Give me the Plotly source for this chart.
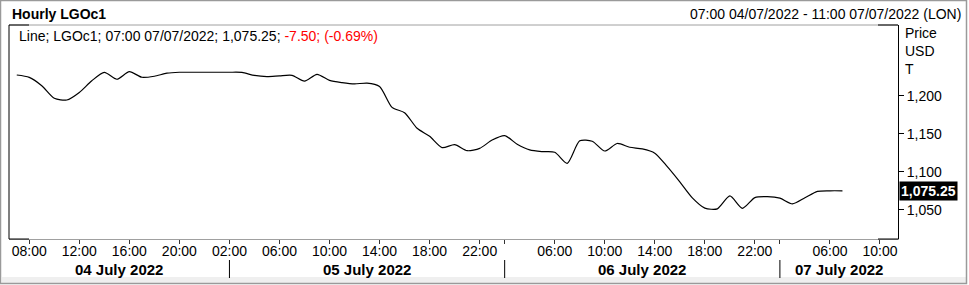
import plotly.graph_objects as go

# ---------------- data ----------------
prices = [
    1227.6, 1224.5, 1213.5, 1197.0, 1194.7, 1204.7, 1220.0, 1231.0, 1222.0, 1232.0,
    1224.6, 1226.0, 1230.0, 1231.2, 1231.2, 1231.2, 1231.2, 1231.2, 1231.0, 1227.0,
    1225.5, 1226.5, 1227.2, 1219.5, 1228.5, 1220.5, 1217.5, 1215.8, 1217.0, 1212.5,
    1185.0, 1178.0, 1157.5, 1147.0, 1132.0, 1136.0, 1128.0, 1131.0, 1142.0, 1147.8,
    1136.5, 1129.0, 1126.8, 1126.0, 1111.4, 1141.0, 1140.5, 1127.6, 1137.5, 1132.5,
    1130.3, 1124.8, 1107.0, 1087.0, 1066.0, 1052.5, 1051.5, 1068.5, 1052.2, 1066.3,
    1067.5, 1065.5, 1058.0, 1066.0, 1074.5, 1075.25, 1075.25,
]
hour_index = list(range(len(prices)))  # trading-hour slots from 07:00 04/07/2022

tick_idx = [1, 5, 9, 13, 17, 21, 25, 29, 33, 37, 39, 43, 47, 51, 55, 59, 61, 65, 69]
tick_text = ["08:00", "12:00", "16:00", "20:00", "02:00", "06:00", "10:00", "14:00",
             "18:00", "22:00", "", "06:00", "10:00", "14:00", "18:00", "22:00", "",
             "06:00", "10:00"]
day_labels = ["04 July 2022", "05 July 2022", "06 July 2022", "07 July 2022"]
day_breaks = [17, 39, 61]

y_tickvals = [1050, 1100, 1150, 1200]
y_ticktext = ["1,050", "1,100", "1,150", "1,200"]
last_value_text = "1,075.25"

x_range = [-0.62, 70.44]
y_range = [1011.8, 1293.4]

# ---------------- layout helpers ----------------
W, H = 969, 285
PL, PR, PT, PB = 9, 898, 25, 239
FONT = "Liberation Sans, Arial, sans-serif"


def xp(px):
    return (px - PL) / (PR - PL)


def yp(py):
    return (PB - py) / (PB - PT)


fig = go.Figure()
fig.add_trace(go.Scatter(
    x=hour_index, y=prices, mode="lines",
    line=dict(color="black", width=1.2, shape="spline", smoothing=0.7),
    hoverinfo="skip", showlegend=False,
))

shapes = []
# outer frame
shapes.append(dict(type="rect", xref="paper", yref="paper",
                   x0=xp(2), x1=xp(966), y0=yp(277), y1=yp(283),
                   fillcolor="#efefef", line=dict(width=0), layer="below"))
shapes.append(dict(type="rect", xref="paper", yref="paper",
                   x0=xp(0.5), x1=xp(966.5), y0=yp(283.5), y1=yp(0.5),
                   fillcolor="rgba(0,0,0,0)", line=dict(color="#9a9a9a", width=1.5)))
# plot frame: gray top/bottom, black sides and corner segments
shapes.append(dict(type="line", xref="paper", yref="paper", x0=0, x1=1, y0=1, y1=1,
                   line=dict(color="#a0a0a0", width=1)))
for y0 in (0, 1):
    shapes.append(dict(type="line", xref="paper", yref="paper", x0=0, x1=xp(29), y0=y0, y1=y0,
                       line=dict(color="black", width=1)))
    shapes.append(dict(type="line", xref="paper", yref="paper", x0=xp(878), x1=1, y0=y0, y1=y0,
                       line=dict(color="black", width=1)))
shapes.append(dict(type="line", xref="paper", yref="paper", x0=0, x1=0, y0=0, y1=1,
                   line=dict(color="black", width=1)))
# day separators
for b in day_breaks:
    shapes.append(dict(type="line", xref="x", yref="paper", x0=b, x1=b,
                       y0=yp(260), y1=yp(278), line=dict(color="black", width=1)))

annotations = []
bounds = [x_range[0]] + day_breaks + [x_range[1]]
for i, lab in enumerate(day_labels):
    annotations.append(dict(x=(bounds[i] + bounds[i + 1]) / 2, xref="x",
                            y=yp(269), yref="paper", text="<b>%s</b>" % lab,
                            showarrow=False, xanchor="center", yanchor="middle",
                            font=dict(family=FONT, size=15, color="black")))
annotations.append(dict(x=xp(10), y=yp(14), xref="paper", yref="paper",
                        text="<b>Hourly LGOc1</b>", showarrow=False,
                        xanchor="left", yanchor="middle",
                        font=dict(family=FONT, size=14, color="black")))
annotations.append(dict(x=xp(963), y=yp(14), xref="paper", yref="paper",
                        text="07:00 04/07/2022 - 11:00 07/07/2022 (LON)", showarrow=False,
                        xanchor="right", yanchor="middle",
                        font=dict(family=FONT, size=14, color="black")))
annotations.append(dict(x=xp(17), y=yp(36), xref="paper", yref="paper",
                        text='Line; LGOc1; 07:00 07/07/2022; 1,075.25; '
                             '<span style="color:#ff0000">-7.50; (-0.69%)</span>',
                        showarrow=False, xanchor="left", yanchor="middle",
                        font=dict(family=FONT, size=14, color="black")))
for txt, yy in (("Price", 33), ("USD", 51), ("T", 69)):
    annotations.append(dict(x=xp(903), y=yp(yy), xref="paper", yref="paper",
                            text=txt, showarrow=False, xanchor="left", yanchor="middle",
                            font=dict(family=FONT, size=14, color="black")))
annotations.append(dict(x=1, xref="paper", y=prices[-1], yref="y",
                        text="<b>%s</b>" % last_value_text, showarrow=False,
                        xanchor="left", yanchor="middle", bgcolor="black",
                        borderpad=1, xshift=1,
                        font=dict(family=FONT, size=14, color="white")))

fig.update_layout(
    width=W, height=H,
    margin=dict(l=PL, r=W - PR, t=PT, b=H - PB),
    paper_bgcolor="white", plot_bgcolor="white",
    shapes=shapes, annotations=annotations,
    font=dict(family=FONT, size=14, color="black"),
    xaxis=dict(range=x_range, tickmode="array", tickvals=tick_idx, ticktext=tick_text,
               showgrid=False, zeroline=False, showline=True, linecolor="#a0a0a0",
               linewidth=1, ticks="outside", ticklen=4, tickcolor="#333333",
               ticklabelstandoff=-5,
               tickfont=dict(family=FONT, size=14, color="black")),
    yaxis=dict(range=y_range, side="right", tickmode="array", tickvals=y_tickvals,
               ticktext=y_ticktext, showgrid=False, zeroline=False, showline=True,
               linecolor="black", linewidth=1, ticks="outside", ticklen=5,
               tickcolor="black", tickfont=dict(family=FONT, size=14, color="black")),
)

fig.write_html("out.html")
